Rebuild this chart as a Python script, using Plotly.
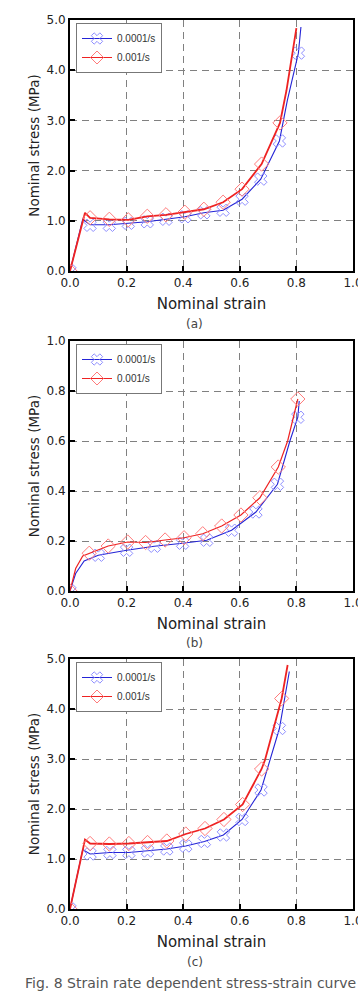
import plotly.graph_objects as go

# ---------------- data ----------------
strain_ticks = [0.0, 0.2, 0.4, 0.6, 0.8, 1.0]
series_names = ["0.0001/s", "0.001/s"]
panel_labels = ["(a)", "(b)", "(c)"]
caption = "Fig. 8 Strain rate dependent stress-strain curve of"

# panel (a)
a_blue_curve_x = [0.0, 0.045, 0.071, 0.139, 0.206, 0.273, 0.339, 0.406, 0.473, 0.541, 0.608, 0.674, 0.740, 0.768, 0.807, 0.816]
a_blue_curve_y = [0.0, 1.03, 0.92, 0.92, 0.95, 0.98, 1.03, 1.08, 1.16, 1.21, 1.43, 1.83, 2.59, 3.4, 4.34, 4.86]
a_blue_mark_x = [0.0, 0.071, 0.139, 0.206, 0.273, 0.339, 0.406, 0.473, 0.541, 0.608, 0.674, 0.740, 0.807]
a_blue_mark_y = [0.0, 0.91, 0.91, 0.95, 0.98, 1.03, 1.08, 1.16, 1.21, 1.43, 1.83, 2.59, 4.34]
a_red_curve_x = [0.0, 0.053, 0.071, 0.139, 0.206, 0.273, 0.339, 0.406, 0.473, 0.541, 0.608, 0.677, 0.742, 0.765, 0.800]
a_red_curve_y = [0.0, 1.16, 1.06, 1.03, 1.02, 1.09, 1.12, 1.17, 1.23, 1.37, 1.63, 2.13, 2.95, 3.6, 4.84]
a_red_mark_x = [0.0, 0.071, 0.139, 0.206, 0.273, 0.339, 0.406, 0.473, 0.541, 0.608, 0.677, 0.742]
a_red_mark_y = [0.0, 1.06, 1.03, 1.02, 1.09, 1.12, 1.17, 1.23, 1.37, 1.63, 2.13, 2.95]

# panel (b)
b_blue_curve_x = [0.0, 0.02, 0.05, 0.100, 0.200, 0.298, 0.398, 0.483, 0.571, 0.657, 0.733, 0.777, 0.805, 0.810]
b_blue_curve_y = [0.0, 0.07, 0.12, 0.143, 0.163, 0.179, 0.191, 0.203, 0.243, 0.316, 0.427, 0.60, 0.695, 0.76]
b_blue_mark_x = [0.0, 0.100, 0.200, 0.298, 0.398, 0.483, 0.571, 0.657, 0.733, 0.805]
b_blue_mark_y = [0.0, 0.143, 0.163, 0.179, 0.191, 0.203, 0.243, 0.316, 0.427, 0.695]
b_red_curve_x = [0.0, 0.02, 0.045, 0.068, 0.135, 0.204, 0.267, 0.336, 0.403, 0.469, 0.536, 0.604, 0.671, 0.736, 0.769, 0.805]
b_red_curve_y = [0.0, 0.09, 0.14, 0.151, 0.18, 0.196, 0.194, 0.204, 0.213, 0.229, 0.26, 0.304, 0.373, 0.496, 0.60, 0.768]
b_red_mark_x = [0.0, 0.068, 0.135, 0.204, 0.267, 0.336, 0.403, 0.469, 0.536, 0.604, 0.671, 0.736, 0.805]
b_red_mark_y = [0.0, 0.151, 0.18, 0.196, 0.194, 0.204, 0.213, 0.229, 0.26, 0.304, 0.373, 0.496, 0.768]

# panel (c)
c_blue_curve_x = [0.0, 0.045, 0.071, 0.141, 0.208, 0.274, 0.342, 0.409, 0.475, 0.542, 0.608, 0.675, 0.707, 0.740, 0.775]
c_blue_curve_y = [0.0, 1.19, 1.10, 1.13, 1.13, 1.16, 1.20, 1.26, 1.35, 1.48, 1.79, 2.38, 2.98, 3.61, 4.75]
c_blue_mark_x = [0.0, 0.071, 0.141, 0.208, 0.274, 0.342, 0.409, 0.475, 0.542, 0.608, 0.675, 0.740]
c_blue_mark_y = [0.0, 1.10, 1.13, 1.13, 1.16, 1.20, 1.26, 1.35, 1.48, 1.79, 2.38, 3.61]
c_red_curve_x = [0.0, 0.053, 0.071, 0.139, 0.208, 0.274, 0.342, 0.409, 0.477, 0.544, 0.610, 0.677, 0.689, 0.748, 0.769]
c_red_curve_y = [0.0, 1.39, 1.31, 1.30, 1.31, 1.33, 1.36, 1.50, 1.61, 1.79, 2.09, 2.80, 2.98, 4.21, 4.88]
c_red_mark_x = [0.0, 0.071, 0.139, 0.208, 0.274, 0.342, 0.409, 0.477, 0.544, 0.610, 0.677, 0.748]
c_red_mark_y = [0.0, 1.31, 1.30, 1.31, 1.33, 1.36, 1.50, 1.61, 1.79, 2.09, 2.80, 4.21]

panels = [
    dict(blue=(a_blue_curve_x, a_blue_curve_y, a_blue_mark_x, a_blue_mark_y),
         red=(a_red_curve_x, a_red_curve_y, a_red_mark_x, a_red_mark_y),
         yrange=[0, 5], dtick=1.0, red_width=1.8),
    dict(blue=(b_blue_curve_x, b_blue_curve_y, b_blue_mark_x, b_blue_mark_y),
         red=(b_red_curve_x, b_red_curve_y, b_red_mark_x, b_red_mark_y),
         yrange=[0, 1], dtick=0.2, red_width=1.2),
    dict(blue=(c_blue_curve_x, c_blue_curve_y, c_blue_mark_x, c_blue_mark_y),
         red=(c_red_curve_x, c_red_curve_y, c_red_mark_x, c_red_mark_y),
         yrange=[0, 5], dtick=1.0, red_width=1.8),
]

# ---------------- layout geometry (pixels) ----------------
W, H = 358, 992
plot_left, plot_right = 70, 353
panel_tops = [20, 341, 659]
panel_bottoms = [271, 591, 909]
label_y = [324, 643, 962]
legend_tops = [23, 344, 662]

BLUE_LINE = "#2424d6"
BLUE_MARK = "#8f8fff"
RED_LINE = "#ee2222"
RED_MARK = "#ff7a7a"

fig = go.Figure()

for i, p in enumerate(panels):
    n = "" if i == 0 else str(i + 1)
    xa, ya = "x" + n, "y" + n
    lg = "legend" + n
    styles = [("blue", BLUE_LINE, BLUE_MARK, "x-open", 11, 1.1, series_names[0]),
              ("red", RED_LINE, RED_MARK, "diamond-open", 11, p["red_width"], series_names[1])]
    for key, lc, mc, sym, ms, lw, name in styles:
        cx, cy, mx, my = p[key]
        fig.add_trace(go.Scatter(x=cx, y=cy, mode="lines", xaxis=xa, yaxis=ya,
                                 line=dict(color=lc, width=lw), showlegend=False,
                                 hoverinfo="skip"))
        fig.add_trace(go.Scatter(x=mx, y=my, mode="markers", xaxis=xa, yaxis=ya,
                                 marker=dict(symbol=sym, size=ms, color=mc,
                                             line=dict(color=mc, width=1)),
                                 showlegend=False))
    for key, lc, mc, sym, ms, lw, name in styles:
        fig.add_trace(go.Scatter(x=[None], y=[None], mode="lines+markers", xaxis=xa, yaxis=ya,
                                 name=name, legend=lg,
                                 line=dict(color=lc, width=1),
                                 marker=dict(symbol=sym, size=10, color=mc,
                                             line=dict(color=mc, width=1))))

    common = dict(showline=True, linecolor="black", linewidth=2, mirror=True,
                  ticks="inside", ticklen=5, tickwidth=2, tickcolor="black",
                  showgrid=True, gridcolor="#808080", gridwidth=1, griddash="7px,5px",
                  zeroline=False, ticklabeloverflow="allow", automargin=False,
                  tickfont=dict(family="DejaVu Sans", size=12, color="#222"))
    fig.layout["xaxis" + n] = dict(
        domain=[plot_left / W, plot_right / W], anchor=ya, range=[0, 1],
        tickvals=strain_ticks, ticktext=["%.1f" % v for v in strain_ticks],
        title=dict(text="Nominal strain", standoff=9,
                   font=dict(family="DejaVu Sans", size=15, color="#222")),
        **common)
    fig.layout["yaxis" + n] = dict(
        domain=[1 - panel_bottoms[i] / H, 1 - panel_tops[i] / H], anchor=xa,
        range=p["yrange"], dtick=p["dtick"], tickformat=".1f",
        title=dict(text="Nominal stress (MPa)", standoff=4,
                   font=dict(family="DejaVu Sans", size=13.5, color="#222")),
        **common)
    fig.layout[lg] = dict(x=76 / W, y=1 - legend_tops[i] / H, xanchor="left", yanchor="top",
                          bgcolor="white", bordercolor="#777", borderwidth=1,
                          font=dict(family="Liberation Sans", size=10, color="#333"),
                          tracegroupgap=0, itemwidth=30)
    fig.add_annotation(text=panel_labels[i], x=195 / W, y=1 - label_y[i] / H,
                       xref="paper", yref="paper", xanchor="center", yanchor="middle",
                       showarrow=False,
                       font=dict(family="DejaVu Sans", size=12, color="#444"))

fig.add_annotation(text=caption.replace(" ", "\u00a0"), x=23 / W, y=1 - 983 / H,
                   xref="paper", yref="paper", xanchor="left", yanchor="middle",
                   showarrow=False,
                   font=dict(family="DejaVu Sans", size=14, color="#555"))

fig.update_layout(width=W, height=H, margin=dict(l=0, r=0, t=0, b=0, autoexpand=False),
                  paper_bgcolor="white", plot_bgcolor="white")

fig.write_html("out.html")
